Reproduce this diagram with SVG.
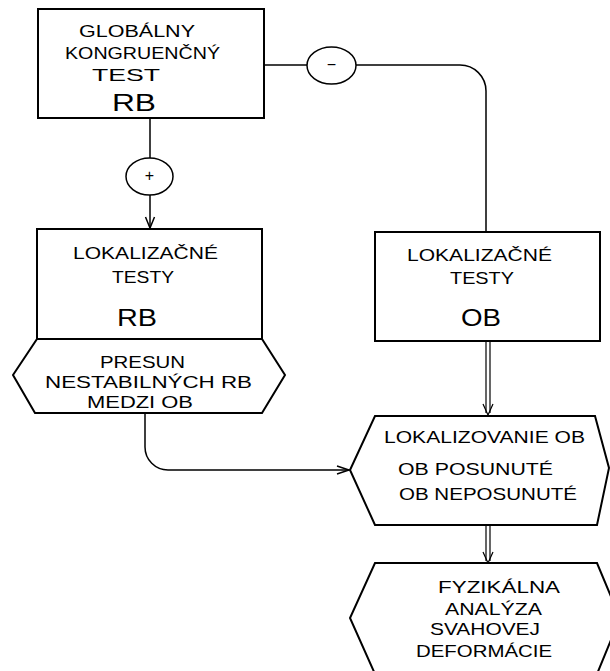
<svg xmlns="http://www.w3.org/2000/svg" width="610" height="671" viewBox="0 0 610 671">
<style>
  .shape { fill: #fff; stroke: #000; stroke-width: 2; stroke-linejoin: miter; }
  .conn { fill: none; stroke: #000; stroke-width: 1.5; }
  .thin { fill: none; stroke: #000; stroke-width: 1.2; }
  text { font-family: "Liberation Sans", Arial, sans-serif; font-size: 16.5px; fill: #000; }
  .big { font-size: 23px; }
  .sign { font-size: 16px; text-anchor: middle; }
</style>
<rect width="610" height="671" fill="#fff"/>

<g id="connectors">
  <line class="conn" x1="150" y1="118" x2="150" y2="158"/>
  <line class="conn" x1="150" y1="195" x2="150" y2="228"/>
  <polyline class="conn" points="145.5,217 150,228 154.5,217"/>
  <line class="conn" x1="264" y1="65" x2="307" y2="65"/>
  <path class="conn" d="M356,65 H460 A26 26 0 0 1 486,91 V232"/>
  <line class="thin" x1="486" y1="341" x2="486" y2="413"/>
  <line class="thin" x1="490" y1="341" x2="490" y2="413"/>
  <polyline class="thin" points="483,404 488,415 493,404"/>
  <path class="conn" d="M145,413 V447 A23 23 0 0 0 168,470 H349"/>
  <polyline class="conn" points="337,466 349,470 337,474"/>
  <line class="thin" x1="486" y1="525" x2="486" y2="561"/>
  <line class="thin" x1="490" y1="525" x2="490" y2="561"/>
  <polyline class="thin" points="483,552 488,563 493,552"/>
</g>

<g id="global-test">
  <rect class="shape" x="38" y="9" width="226" height="109"/>
  <text x="79" y="37" textLength="116" lengthAdjust="spacingAndGlyphs">GLOBÁLNY</text>
  <text x="65" y="59" textLength="155" lengthAdjust="spacingAndGlyphs">KONGRUENČNÝ</text>
  <text x="92" y="81" textLength="68" lengthAdjust="spacingAndGlyphs">TEST</text>
  <text class="big" x="112" y="111" textLength="44" lengthAdjust="spacingAndGlyphs">RB</text>
</g>

<g id="minus">
  <ellipse class="conn" cx="331.5" cy="65.5" rx="24.5" ry="18.5" fill="#fff"/>
  <text class="sign" x="331.5" y="70">−</text>
</g>

<g id="plus">
  <ellipse class="conn" cx="149.5" cy="176.5" rx="23.5" ry="18.5" fill="#fff"/>
  <text class="sign" x="149.5" y="181">+</text>
</g>

<g id="local-tests-rb">
  <rect class="shape" x="37" y="229" width="225" height="110"/>
  <text x="73" y="259" textLength="145" lengthAdjust="spacingAndGlyphs">LOKALIZAČNÉ</text>
  <text x="112" y="283" textLength="62" lengthAdjust="spacingAndGlyphs">TESTY</text>
  <text class="big" x="117" y="326" textLength="40" lengthAdjust="spacingAndGlyphs">RB</text>
</g>

<g id="presun">
  <polygon class="shape" points="37,339 262,339 285,375 262,413 35,413 13,375"/>
  <text x="100" y="368" textLength="85" lengthAdjust="spacingAndGlyphs">PRESUN</text>
  <text x="45" y="388" textLength="207" lengthAdjust="spacingAndGlyphs">NESTABILNÝCH RB</text>
  <text x="87" y="408" textLength="106" lengthAdjust="spacingAndGlyphs">MEDZI OB</text>
</g>

<g id="local-tests-ob">
  <rect class="shape" x="375" y="232" width="225" height="109"/>
  <text x="407" y="261" textLength="145" lengthAdjust="spacingAndGlyphs">LOKALIZAČNÉ</text>
  <text x="450" y="284" textLength="64" lengthAdjust="spacingAndGlyphs">TESTY</text>
  <text class="big" x="461" y="326" textLength="40" lengthAdjust="spacingAndGlyphs">OB</text>
</g>

<g id="lokalizovanie">
  <polygon class="shape" points="375,416 595,416 609,468 597,525 375,525 350,470"/>
  <text x="384" y="443" textLength="201" lengthAdjust="spacingAndGlyphs">LOKALIZOVANIE OB</text>
  <text x="398" y="475" textLength="155" lengthAdjust="spacingAndGlyphs">OB POSUNUTÉ</text>
  <text x="399" y="500" textLength="178" lengthAdjust="spacingAndGlyphs">OB NEPOSUNUTÉ</text>
</g>

<g id="fyzikalna">
  <polygon class="shape" points="375,563 597,563 620,618 597,674 375,674 350,618"/>
  <text x="438" y="593" textLength="122" lengthAdjust="spacingAndGlyphs">FYZIKÁLNA</text>
  <text x="445" y="615" textLength="97" lengthAdjust="spacingAndGlyphs">ANALÝZA</text>
  <text x="430" y="635" textLength="110" lengthAdjust="spacingAndGlyphs">SVAHOVEJ</text>
  <text x="416" y="657" textLength="136" lengthAdjust="spacingAndGlyphs">DEFORMÁCIE</text>
</g>
</svg>
